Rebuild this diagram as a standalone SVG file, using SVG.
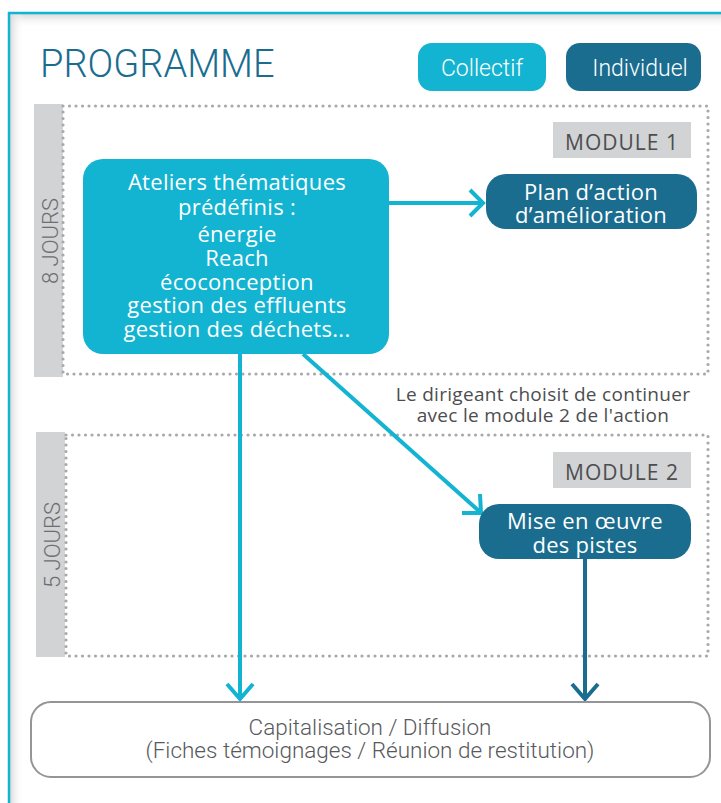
<svg xmlns="http://www.w3.org/2000/svg" width="721" height="803" viewBox="0 0 721 803">
<defs>
<linearGradient id="shTop" x1="0" y1="0" x2="0" y2="1"><stop offset="0" stop-color="#d9dadb"/><stop offset="1" stop-color="#ffffff" stop-opacity="0"/></linearGradient>
<linearGradient id="shLeft" x1="0" y1="0" x2="1" y2="0"><stop offset="0" stop-color="#d9dadb"/><stop offset="1" stop-color="#ffffff" stop-opacity="0"/></linearGradient>
<style>
.t{font-family:Roboto,"Liberation Sans",sans-serif;}
.o{font-family:"Open Sans","Liberation Sans",sans-serif;}
.dot{fill:none;stroke:#a7a9ac;stroke-width:3.2;stroke-linecap:round;stroke-dasharray:0 6.5;}
.bar{fill:#d1d3d4;}
.coll{fill:#12b4d1;}
.ind{fill:#1a6d8f;}
.wt{fill:#ffffff;font-size:22px;font-weight:400;letter-spacing:0.3px;text-anchor:middle;}
.lab{fill:#4d4d4f;font-size:21px;letter-spacing:1px;text-anchor:middle;}
.jours{fill:#6d6e71;font-size:22px;font-weight:300;text-anchor:middle;}
.ca{fill:none;stroke:#12b4d1;stroke-width:4;}
.da{fill:none;stroke:#1a6d8f;stroke-width:4;}
</style>
</defs>
<rect x="0" y="0" width="721" height="803" fill="#ffffff"/>
<g id="frame">
<rect x="10" y="14" width="720" height="14" fill="url(#shTop)"/>
<rect x="10" y="14" width="14" height="800" fill="url(#shLeft)"/>
<rect x="9" y="13" width="740" height="820" fill="none" stroke="#12b4d1" stroke-width="2.5"/>
</g>
<g id="title">
<text class="t" x="40" y="77" font-size="38" font-weight="300" fill="#1a6d8f">PROGRAMME</text>
</g>
<g id="legend-collectif">
<rect class="coll" x="418" y="43" width="128" height="48" rx="14"/>
<text class="t" x="482" y="76" font-size="23" font-weight="300" fill="#ffffff" text-anchor="middle">Collectif</text>
</g>
<g id="legend-individuel">
<rect class="ind" x="566" y="43" width="135" height="48" rx="14"/>
<text class="t" x="640" y="76" font-size="23" font-weight="300" fill="#ffffff" text-anchor="middle">Individuel</text>
</g>
<g id="module1">
<rect class="bar" x="34" y="104" width="29" height="273"/>
<text class="t jours" transform="translate(58,241) rotate(-90)">8 JOURS</text>
<path class="dot" d="M63,106 H708 V374 H63 Z"/>
<rect class="bar" x="553" y="122" width="138" height="36"/>
<text class="o lab" x="622" y="150">MODULE 1</text>
</g>
<g id="module2">
<rect class="bar" x="36" y="432" width="29" height="225"/>
<text class="t jours" transform="translate(60,545) rotate(-90)">5 JOURS</text>
<path class="dot" d="M66,435 H708 V656 H66 Z"/>
<rect class="bar" x="553" y="452" width="138" height="36"/>
<text class="o lab" x="622" y="480">MODULE 2</text>
</g>
<g id="connectors">
<line class="ca" x1="389" y1="203" x2="481" y2="203"/>
<path class="ca" d="M470,190 L483,203 L470,216"/>
<line class="ca" x1="303" y1="354" x2="479" y2="511"/>
<path class="ca" d="M480,494 L481,513 L462,513"/>
<line class="ca" x1="240" y1="354" x2="240" y2="698"/>
<path class="ca" d="M227,684 L240,699 L253,684"/>
<line class="da" x1="585" y1="559" x2="585" y2="698"/>
<path class="da" d="M572,684 L585,699 L598,684"/>
</g>
<g id="ateliers">
<rect class="coll" x="83" y="159" width="306" height="195" rx="20"/>
<text class="o wt"><tspan x="237" y="190">Ateliers thématiques</tspan><tspan x="237" y="215">prédéfinis :</tspan><tspan x="237" y="242">énergie</tspan><tspan x="237" y="266">Reach</tspan><tspan x="237" y="290">écoconception</tspan><tspan x="237" y="313">gestion des effluents</tspan><tspan x="237" y="337">gestion des déchets...</tspan></text>
</g>
<g id="plan-action">
<rect class="ind" x="486" y="174" width="211" height="55" rx="20"/>
<text class="o wt"><tspan x="591" y="200">Plan d’action</tspan><tspan x="591" y="223">d’amélioration</tspan></text>
</g>
<g id="decision-label">
<text class="o" font-size="19" font-weight="500" letter-spacing="0.3" fill="#4d4d4f" text-anchor="middle"><tspan x="543" y="401">Le dirigeant choisit de continuer</tspan><tspan x="543" y="422">avec le module 2 de l'action</tspan></text>
</g>
<g id="mise-en-oeuvre">
<rect class="ind" x="479" y="504" width="212" height="55" rx="20"/>
<text class="o wt"><tspan x="585" y="529">Mise en œuvre</tspan><tspan x="585" y="553">des pistes</tspan></text>
</g>
<g id="capitalisation">
<rect x="31" y="702" width="679" height="75" rx="20" fill="#ffffff" stroke="#939598" stroke-width="2"/>
<text class="t" font-size="22.5" font-weight="300" fill="#58595b" text-anchor="middle"><tspan x="370" y="735">Capitalisation / Diffusion</tspan><tspan x="370" y="758">(Fiches témoignages / Réunion de restitution)</tspan></text>
</g>
</svg>
